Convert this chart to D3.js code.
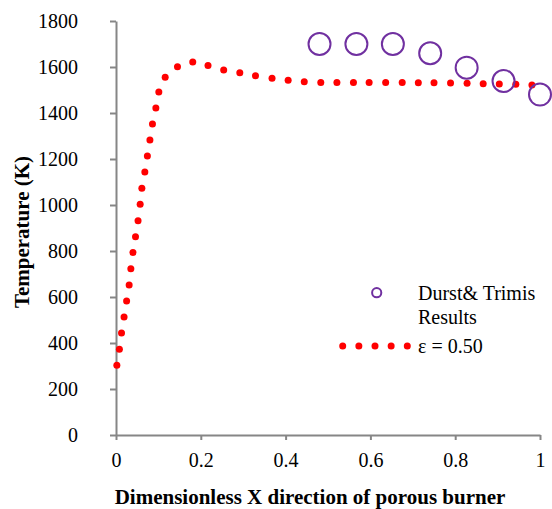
<!DOCTYPE html>
<html>
<head>
<meta charset="utf-8">
<script src="https://cdn.jsdelivr.net/npm/d3@7"></script>
<style>
  html, body { margin: 0; padding: 0; background: #fff; }
  svg { display: block; }
</style>
</head>
<body>
<svg id="chart" width="552" height="509" font-family="'Liberation Serif', 'Times New Roman', serif"></svg>
<script>
// ---- data ----
const simX = [0.002, 0.008, 0.013, 0.019, 0.025, 0.031, 0.035, 0.040, 0.046, 0.052,
              0.057, 0.061, 0.068, 0.074, 0.080, 0.086, 0.094, 0.101, 0.116, 0.145,
              0.181, 0.217, 0.254, 0.292, 0.329, 0.368, 0.406, 0.444, 0.483, 0.521,
              0.560, 0.597, 0.636, 0.675, 0.713, 0.750, 0.789, 0.828, 0.866, 0.904,
              0.943, 0.981];
const simT = [303, 373, 443, 513, 583, 652, 723, 793, 862, 932,
              1003, 1073, 1143, 1213, 1283, 1352, 1422, 1491, 1555, 1601,
              1622, 1606, 1587, 1575, 1562, 1551, 1542, 1536, 1533, 1533,
              1533, 1533, 1533, 1533, 1532, 1531, 1530, 1529, 1527, 1526,
              1525, 1522];
const refX = [0.480, 0.567, 0.653, 0.741, 0.827, 0.914, 1.000];
const refT = [1700, 1700, 1700, 1660, 1597, 1539, 1480];
const xTicks = [0, 0.2, 0.4, 0.6, 0.8, 1];
const yTicks = [0, 200, 400, 600, 800, 1000, 1200, 1400, 1600, 1800];
const legendLabels = ["Durst& Trimis", "Results", "\u03b5 = 0.50"];
const xTitle = "Dimensionless X direction of porous burner";
const yTitle = "Temperature (K)";

// ---- drawing ----
const FONT = "'Liberation Serif', 'Times New Roman', serif";
const svg = d3.select("#chart");
const x = d3.scaleLinear().domain([0, 1]).range([116, 540]);
const y = d3.scaleLinear().domain([0, 1800]).range([435, 21]);
const axisColor = "#868686";
const red = "#ff0000";
const purple = "#7030a0";

const xAxis = svg.append("g")
  .attr("transform", "translate(0,435)")
  .call(d3.axisBottom(x).tickValues(xTicks).tickSize(5).tickPadding(12.5)
        .tickFormat(d => String(d)).tickSizeOuter(0));
const yAxis = svg.append("g")
  .attr("transform", "translate(116,0)")
  .call(d3.axisLeft(y).tickValues(yTicks).tickSize(6).tickPadding(32)
        .tickFormat(d => String(d)).tickSizeOuter(0));

[xAxis, yAxis].forEach(g => {
  g.attr("font-family", FONT).attr("font-size", 20);
  g.select(".domain").attr("stroke", axisColor).attr("stroke-width", 2);
  g.selectAll(".tick line").attr("stroke", axisColor).attr("stroke-width", 2);
  g.selectAll(".tick text").attr("fill", "#000");
});

// simulated series: red dots
svg.append("g").selectAll("circle")
  .data(simX.map((v, i) => [v, simT[i]]))
  .join("circle")
  .attr("cx", d => x(d[0]))
  .attr("cy", d => y(d[1]))
  .attr("r", 3.5)
  .attr("fill", red);

// reference series: purple open circles
svg.append("g").selectAll("circle")
  .data(refX.map((v, i) => [v, refT[i]]))
  .join("circle")
  .attr("cx", d => x(d[0]))
  .attr("cy", d => y(d[1]))
  .attr("r", 11)
  .attr("fill", "none")
  .attr("stroke", purple)
  .attr("stroke-width", 2);

// legend
const leg = svg.append("g").attr("font-family", FONT).attr("font-size", 20);
leg.append("circle").attr("cx", 376.7).attr("cy", 292.7).attr("r", 4.6)
  .attr("fill", "none").attr("stroke", purple).attr("stroke-width", 2);
leg.append("text").attr("x", 418).attr("y", 299.5).text(legendLabels[0]);
leg.append("text").attr("x", 418).attr("y", 324).text(legendLabels[1]);
leg.selectAll("circle.ld").data(d3.range(5)).join("circle").attr("class", "ld")
  .attr("cx", i => 342.7 + i * 16.15).attr("cy", 346).attr("r", 3.5).attr("fill", red);
leg.append("text").attr("x", 418).attr("y", 353.3).text(legendLabels[2]);

// axis titles
svg.append("text")
  .attr("x", 310).attr("y", 504)
  .attr("text-anchor", "middle")
  .attr("font-family", FONT).attr("font-size", 21).attr("font-weight", "bold")
  .text(xTitle);
svg.append("text")
  .attr("transform", "translate(29,232) rotate(-90)")
  .attr("text-anchor", "middle")
  .attr("font-family", FONT).attr("font-size", 21).attr("font-weight", "bold")
  .text(yTitle);
</script>
</body>
</html>
